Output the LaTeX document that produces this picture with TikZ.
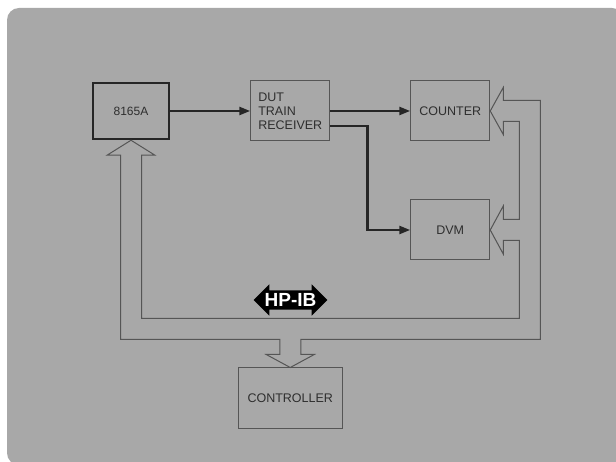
\documentclass[tikz,border=0pt]{standalone}
\usepackage{fontspec}
\setmainfont{Liberation Sans}
\usepackage{xcolor}
\usepackage{tikz}
\usetikzlibrary{shapes.arrows, arrows.meta, positioning, calc}

\definecolor{panel}{HTML}{A8A8A8}
\definecolor{ink}{HTML}{2E2E2E}
\definecolor{rule}{HTML}{555555}

\begin{document}
\begin{tikzpicture}[
    x=1pt, y=-1pt,
    node distance=58pt and 80pt,
    box/.style={rectangle, draw=rule, line width=1pt, minimum width=79pt, minimum height=60pt, inner sep=2pt, align=center, text=ink, font=\fontsize{12.5}{14}\selectfont},
    sig/.style={-{Triangle[length=11pt, width=8pt]}, line width=2.5pt, draw=black!85},
    bus/.style={draw=rule, line width=1pt, line join=miter}
]

% Page and panel
\path[use as bounding box, clip] (0,0) rectangle (616,462);
\fill[white] (0,0) rectangle (616,462);
\fill[panel, rounded corners=12pt] (7,8) rectangle (624,465);

% Instruments
\node[box, draw=black!85, line width=2.5pt, minimum width=76pt, minimum height=56pt, font=\fontsize{12}{14}\selectfont] (gen) at (131,111) {8165A};
\node[box, align=left, right=of gen] (rcv) {DUT\\TRAIN\\RECEIVER};
\node[box, right=of rcv] (cnt) {COUNTER};
\node[box, below=of cnt] (dvm) {DVM};
\node[box, minimum width=104pt, below=226pt of rcv] (ctrl) {CONTROLLER};

% Signal path
\draw[sig] (gen) -- (rcv);
\draw[sig] (rcv) -- (cnt);
\draw[sig] ([yshift=-15pt]rcv.east) -- ++(37,0) |- (dvm.west);

% HP-IB bus rails
\coordinate (oR) at ($(cnt.east)+(50,0)$);
\coordinate (iR) at ($(cnt.east)+(29,0)$);
\coordinate (oB) at ($(ctrl.north)+(0,-28)$);
\coordinate (iB) at ($(ctrl.north)+(0,-49)$);
\coordinate (oL) at ($(gen.south)+(-10.5,0)$);

% HP-IB bus (one hollow outline)
\draw[bus] (cnt.east) -- ++(13,-23.5) -- ++(0,13) -| (oR |- oB)
  -| ($(ctrl.north)+(10.5,-13)$) -- ++(13.5,0) -- (ctrl.north)
  -- ++(-24,-13) -- ++(13.5,0) |- (oL |- oB)
  -- ($(gen.south)+(-10.5,15)$) -- ++(-13.5,0) -- (gen.south)
  -- ++(24,15) -- ++(-13.5,0) |- (iR |- iB)
  |- ($(dvm.east)+(13,10.5)$) -- ++(0,13.5) -- (dvm.east)
  -- ++(13,-24) -- ++(0,13.5) -| ($(cnt.east)+(29,10.5)$)
  -- ++(-16,0) -- ++(0,13) -- cycle;

% Bus label
\node[double arrow, fill=black, text=white, font=\fontsize{19}{19}\bfseries, inner xsep=1pt, inner ysep=3pt, double arrow head extend=6pt] (hpib) at (290.5,300) {HP-IB};

\end{tikzpicture}
\end{document}
